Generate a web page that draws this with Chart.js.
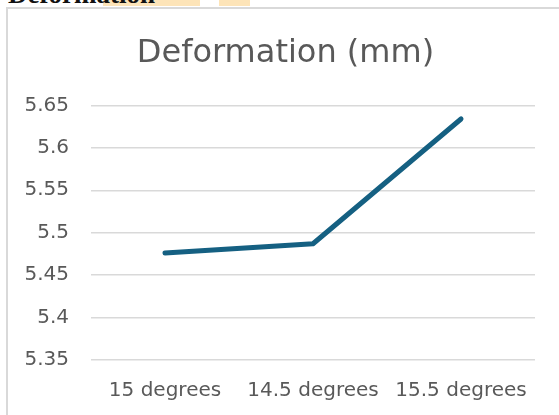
<!DOCTYPE html>
<html>
<head>
<meta charset="utf-8">
<script src="https://cdn.jsdelivr.net/npm/chart.js@4/dist/chart.umd.min.js"></script>
<style>
  html, body { margin: 0; padding: 0; background: #fff; overflow: hidden; }
  body { width: 559px; height: 415px; position: relative; }
  .hl { position: absolute; top: 0; height: 6px; background: #fde4b8; }
  #heading {
    position: absolute; left: 8px; top: -19px; margin: 0;
    font-family: "Liberation Serif", "DejaVu Serif", serif;
    font-weight: bold; font-size: 27px; line-height: 27px; color: #111;
    white-space: nowrap;
  }
  #frame {
    position: absolute; left: 6px; top: 7px; width: 560px; height: 420px;
    border-left: 2px solid #d9d9d9; border-top: 2px solid #d9d9d9;
    background: #fff;
  }
  #wrap { position: absolute; left: 0px; top: 1px; width: 555px; height: 406px; }
</style>
</head>
<body>
<div class="hl" style="left:103px;width:97px"></div>
<div class="hl" style="left:219px;width:31px"></div>
<div id="heading">Deformation</div>
<div id="frame">
  <div id="wrap"><canvas id="chart"></canvas></div>
</div>
<script>
// Deformation measured for each cutting angle
const angles = ['15 degrees', '14.5 degrees', '15.5 degrees'];
const deformation = [5.476, 5.487, 5.634];
const yTicks = [5.35, 5.4, 5.45, 5.5, 5.55, 5.6, 5.65];

const grey = '#595959';
const tickFont = { family: 'DejaVu Sans', size: 20 };

// Center the title over the whole chart box rather than the padded area
const fullWidthTitle = {
  id: 'fullWidthTitle',
  afterLayout(chart) {
    if (chart.titleBlock) {
      chart.titleBlock.left = 0;
      chart.titleBlock.right = chart.width;
    }
  }
};

new Chart(document.getElementById('chart'), {
  type: 'line',
  data: {
    labels: angles,
    datasets: [{
      label: 'Deformation (mm)',
      data: deformation,
      borderColor: '#156082',
      backgroundColor: '#156082',
      borderWidth: 5,
      borderCapStyle: 'round',
      borderJoinStyle: 'round',
      pointRadius: 0,
      tension: 0
    }]
  },
  plugins: [fullWidthTitle],
  options: {
    responsive: true,
    maintainAspectRatio: false,
    animation: false,
    layout: { padding: { left: 0, right: 28, top: 0, bottom: 0 } },
    plugins: {
      legend: { display: false },
      tooltip: { enabled: false },
      title: {
        display: true,
        text: 'Deformation (mm)',
        color: grey,
        font: { family: 'DejaVu Sans', size: 32, weight: 'normal', lineHeight: 1.2 },
        padding: { top: 24, bottom: 33 }
      }
    },
    scales: {
      x: {
        type: 'category',
        offset: true,
        grid: { display: false, drawTicks: false },
        border: { display: false },
        ticks: { color: grey, font: tickFont, padding: 19, maxRotation: 0 },
        afterFit: s => { s.height = 56; }
      },
      y: {
        min: 5.35,
        max: 5.65,
        grid: { color: '#d9d9d9', lineWidth: 1.5, drawTicks: false },
        border: { display: false },
        ticks: {
          color: grey, font: tickFont, padding: 22,
          callback: v => String(parseFloat(Number(v).toFixed(2)))
        },
        afterBuildTicks: s => { s.ticks = yTicks.map(v => ({ value: v })); },
        afterFit: s => { s.width = 83; }
      }
    }
  }
});
</script>
</body>
</html>
